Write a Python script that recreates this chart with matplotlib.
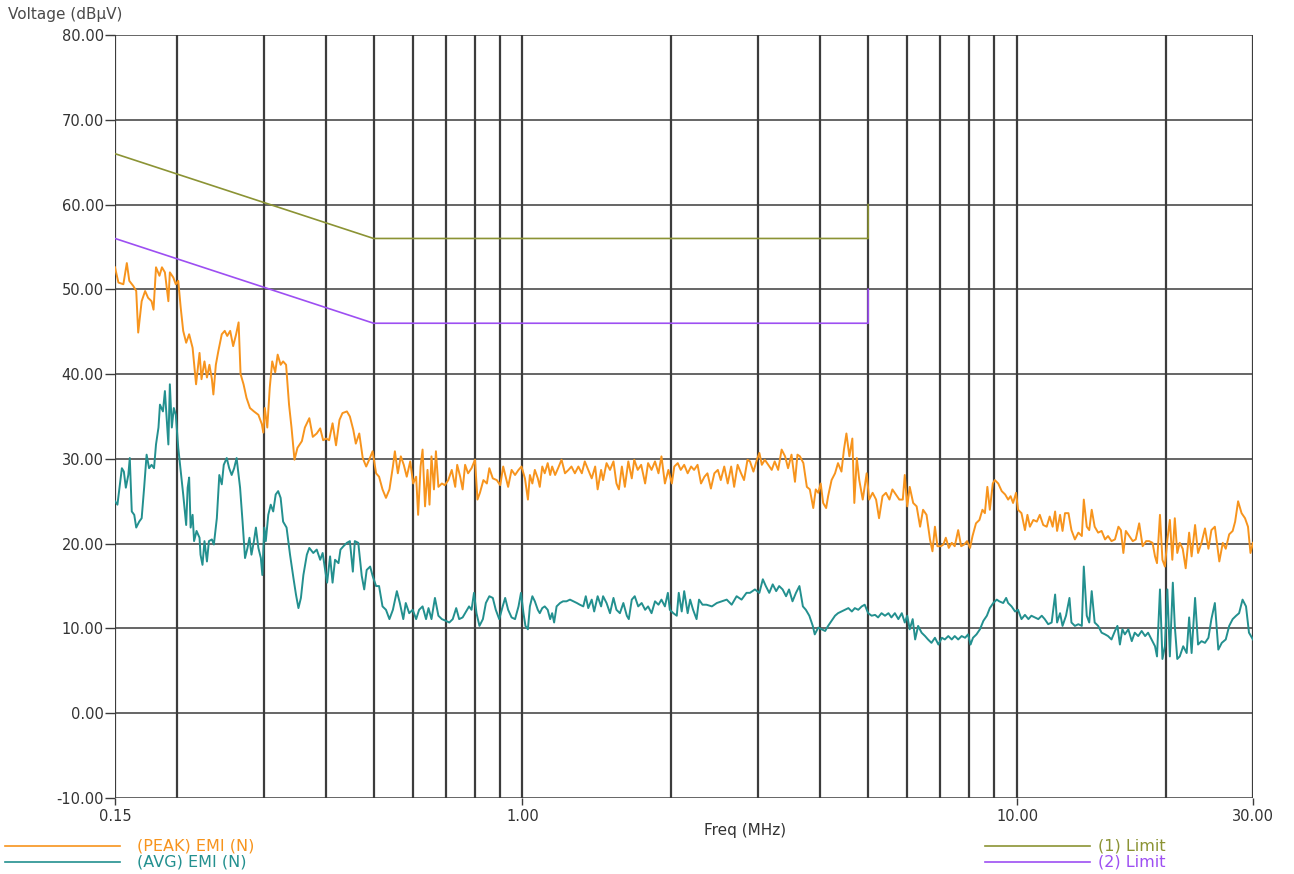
import numpy as np
import matplotlib
matplotlib.use("Agg")
import matplotlib.pyplot as plt
from matplotlib.lines import Line2D

plt.rcParams['font.family'] = ['DejaVu Sans']

# ---------------- data (frequency stored as log10 of MHz) ----------------
peak_logf = [
    -0.824, -0.817, -0.807, -0.800, -0.795, -0.787, -0.781, -0.777, -0.770, -0.763,
    -0.757, -0.750, -0.746, -0.741, -0.734, -0.729, -0.723, -0.716, -0.713, -0.706,
    -0.701, -0.696, -0.691, -0.686, -0.680, -0.674, -0.667, -0.660, -0.653, -0.649,
    -0.643, -0.638, -0.633, -0.628, -0.625, -0.620, -0.615, -0.608, -0.602, -0.597,
    -0.591, -0.585, -0.579, -0.574, -0.570, -0.564, -0.558, -0.551, -0.543, -0.534,
    -0.527, -0.524, -0.521, -0.516, -0.511, -0.506, -0.500, -0.495, -0.489, -0.484,
    -0.478, -0.472, -0.467, -0.461, -0.455, -0.446, -0.440, -0.431,
    -0.424, -0.416, -0.409, -0.403, -0.397, -0.391, -0.384, -0.377, -0.370, -0.364,
    -0.355, -0.349, -0.342, -0.337, -0.330, -0.323, -0.316, -0.310, -0.303, -0.296,
    -0.290, -0.283, -0.276, -0.269, -0.262, -0.258, -0.252, -0.246, -0.240, -0.234,
    -0.227, -0.221, -0.215, -0.211, -0.206, -0.202, -0.197, -0.192, -0.188, -0.184,
    -0.179, -0.175, -0.170, -0.163, -0.157, -0.150, -0.143, -0.136, -0.132, -0.126,
    -0.121, -0.116, -0.110, -0.103, -0.096, -0.091, -0.086, -0.079, -0.072, -0.067,
    -0.060, -0.052, -0.045, -0.039, -0.029, -0.022,
    -0.015, -0.008, -0.002, 0.005, 0.011, 0.015, 0.020, 0.025, 0.031, 0.035,
    0.040, 0.045, 0.051, 0.056, 0.060, 0.066, 0.072, 0.079, 0.086, 0.093,
    0.099, 0.106, 0.113, 0.120, 0.126, 0.133, 0.140, 0.147, 0.152, 0.159,
    0.163, 0.170, 0.177, 0.184, 0.190, 0.195, 0.201, 0.207, 0.214, 0.221,
    0.226, 0.233, 0.240, 0.248, 0.254, 0.261, 0.268, 0.275, 0.281, 0.288,
    0.295, 0.302, 0.307, 0.314, 0.320, 0.327, 0.334, 0.341, 0.347, 0.354,
    0.361, 0.368, 0.374, 0.381, 0.388, 0.395, 0.401, 0.408, 0.415, 0.422,
    0.428, 0.435, 0.442, 0.448, 0.455,
    0.460, 0.467, 0.474, 0.479, 0.484, 0.490, 0.497, 0.504, 0.510, 0.517,
    0.524, 0.531, 0.537, 0.544, 0.551, 0.556, 0.561, 0.568, 0.575, 0.581,
    0.588, 0.593, 0.598, 0.603, 0.608, 0.614, 0.618, 0.625, 0.632, 0.638,
    0.645, 0.650, 0.655, 0.661, 0.667, 0.671, 0.676, 0.681, 0.688, 0.696,
    0.701, 0.708, 0.715, 0.721, 0.728, 0.735, 0.742, 0.748, 0.755, 0.762,
    0.769, 0.773, 0.778, 0.783, 0.790, 0.797, 0.804, 0.810, 0.817, 0.824,
    0.829, 0.834, 0.839, 0.846, 0.851, 0.856, 0.862, 0.868, 0.874, 0.881,
    0.887, 0.893, 0.899, 0.905, 0.910, 0.917, 0.924, 0.930, 0.935, 0.940,
    0.945, 0.951, 0.955, 0.962,
    0.969, 0.976, 0.982, 0.987, 0.992, 0.998, 1.002, 1.009, 1.016, 1.021,
    1.026, 1.033, 1.040, 1.046, 1.053, 1.060, 1.066, 1.072, 1.077, 1.081,
    1.087, 1.092, 1.097, 1.104, 1.110, 1.117, 1.124, 1.131, 1.135, 1.141,
    1.146, 1.151, 1.157, 1.164, 1.171, 1.178, 1.184, 1.191, 1.198, 1.205,
    1.210, 1.215, 1.220, 1.227, 1.234, 1.240, 1.247, 1.254, 1.261, 1.267,
    1.274, 1.279, 1.283, 1.289, 1.294, 1.299, 1.304, 1.309, 1.314, 1.319,
    1.324, 1.329, 1.335, 1.341, 1.348, 1.353, 1.360, 1.366, 1.373, 1.380,
    1.387, 1.393, 1.400, 1.409, 1.416, 1.422, 1.429, 1.436, 1.441, 1.447,
    1.454, 1.461, 1.467, 1.472, 1.477,
]
peak_db = [
    52.6, 50.8, 50.6, 53.1, 51.0, 50.4, 49.8, 44.9, 48.6, 49.8,
    49.0, 48.6, 47.6, 52.6, 51.6, 52.6, 52.0, 48.6, 52.0, 51.4,
    50.6, 51.0, 47.8, 45.1, 43.7, 44.7, 43.1, 38.8, 42.5, 39.4,
    41.5, 39.6, 41.1, 39.4, 37.6, 41.1, 42.7, 44.7, 45.1, 44.5,
    45.1, 43.3, 44.7, 46.1, 40.0, 38.8, 37.2, 36.0, 35.6, 35.2,
    34.1, 33.1, 36.0, 33.7, 38.4, 41.5, 40.2, 42.3, 41.1, 41.5,
    41.1, 36.4, 33.7, 29.9, 31.3, 32.1, 33.7, 34.8,
    32.6, 33.0, 33.6, 32.2, 32.4, 32.2, 34.2, 31.6, 34.6, 35.4,
    35.6, 35.0, 33.4, 31.8, 33.0, 30.1, 29.1, 29.9, 30.9, 28.3,
    27.9, 26.4, 25.4, 26.4, 29.1, 30.9, 28.3, 30.3, 29.3, 27.9,
    29.7, 27.1, 27.9, 23.4, 29.1, 31.1, 24.4, 28.7, 24.6, 30.3,
    26.4, 30.9, 26.7, 27.1, 26.9, 27.5, 28.7, 26.7, 29.3, 27.9,
    26.4, 29.3, 28.3, 28.9, 29.9, 25.2, 26.0, 27.5, 27.1, 28.9,
    27.7, 27.5, 26.9, 29.1, 26.7, 28.7,
    28.1, 28.7, 29.1, 27.7, 25.2, 28.1, 27.1, 28.7, 27.7, 26.7,
    29.1, 28.3, 29.5, 28.1, 29.1, 28.1, 28.9, 29.9, 28.3, 28.7,
    29.1, 28.3, 29.1, 28.3, 29.7, 28.7, 27.7, 29.1, 26.4, 28.7,
    27.5, 29.5, 28.7, 29.7, 27.1, 26.4, 29.1, 26.7, 29.7, 27.7,
    29.9, 28.7, 29.3, 27.1, 29.5, 28.7, 29.7, 28.3, 30.3, 27.1,
    28.7, 27.1, 29.1, 29.5, 28.7, 29.3, 28.3, 29.1, 28.7, 29.3,
    27.1, 27.9, 28.3, 26.5, 28.3, 28.7, 27.5, 29.1, 27.1, 29.1,
    26.7, 29.3, 28.3, 27.5, 29.9,
    29.7, 28.5, 29.9, 30.7, 29.3, 29.9, 29.3, 28.7, 29.7, 28.7,
    31.1, 30.3, 28.9, 30.5, 27.3, 30.5, 30.3, 29.5, 26.7, 26.4,
    24.2, 26.4, 26.0, 27.1, 24.8, 24.2, 25.6, 27.5, 28.3, 29.5,
    28.5, 31.1, 33.0, 30.3, 32.4, 24.8, 30.1, 27.5, 25.2, 28.3,
    25.2, 26.0, 25.2, 23.0, 25.6, 26.0, 25.2, 26.4, 25.8, 25.2,
    25.2, 28.1, 24.4, 26.7, 24.8, 24.4, 22.0, 24.0, 23.4, 20.5,
    19.1, 22.0, 19.7, 19.7, 19.9, 20.7, 19.5, 20.1, 19.7, 21.6,
    19.7, 19.9, 20.3, 19.5, 20.9, 22.4, 22.8, 24.0, 23.6, 26.7,
    24.0, 27.1, 27.5, 27.1,
    26.2, 25.8, 25.2, 25.6, 24.8, 26.0, 24.0, 23.6, 21.6, 23.4,
    22.0, 22.8, 22.6, 23.4, 22.2, 22.0, 23.2, 22.0, 23.8, 21.5,
    23.4, 21.5, 23.6, 23.6, 21.6, 20.5, 21.3, 20.9, 25.2, 22.0,
    21.6, 24.0, 22.0, 21.3, 21.5, 20.5, 20.9, 20.3, 20.5, 22.0,
    21.6, 18.9, 21.5, 20.9, 20.3, 20.5, 22.4, 19.7, 20.3, 20.3,
    20.1, 18.5, 17.7, 23.4, 18.1, 17.3, 20.5, 22.8, 18.1, 23.0,
    18.9, 20.1, 19.4, 17.1, 21.3, 18.5, 22.2, 18.9, 20.1, 21.8,
    19.4, 21.6, 22.0, 17.9, 20.1, 19.4, 21.1, 21.5, 22.6, 25.0,
    23.6, 23.0, 22.0, 18.9, 20.1,
]

avg_logf = [
    -0.824, -0.819, -0.814, -0.810, -0.806, -0.802, -0.797, -0.794, -0.790, -0.785,
    -0.781, -0.775, -0.770, -0.765, -0.760, -0.755, -0.750, -0.745, -0.741, -0.736,
    -0.733, -0.727, -0.723, -0.719, -0.716, -0.713, -0.709, -0.705, -0.701, -0.696,
    -0.691, -0.686, -0.680, -0.677, -0.674, -0.671, -0.667, -0.664, -0.659, -0.653,
    -0.651, -0.647, -0.643, -0.638, -0.634, -0.628, -0.624, -0.618, -0.613, -0.608,
    -0.604, -0.598, -0.593, -0.588, -0.583, -0.578, -0.571, -0.566, -0.561, -0.556,
    -0.552, -0.548, -0.543, -0.539, -0.534, -0.529, -0.526, -0.522, -0.519, -0.514,
    -0.509, -0.504, -0.499, -0.494, -0.489, -0.484, -0.477, -0.470, -0.463, -0.458,
    -0.453, -0.448, -0.443, -0.436, -0.431,
    -0.423, -0.416, -0.409, -0.404, -0.399, -0.395, -0.389, -0.384, -0.379, -0.372,
    -0.368, -0.362, -0.355, -0.349, -0.343, -0.339, -0.332, -0.325, -0.320, -0.315,
    -0.308, -0.303, -0.296, -0.290, -0.283, -0.276, -0.269, -0.262, -0.254, -0.248,
    -0.241, -0.236, -0.229, -0.222, -0.215, -0.209, -0.202, -0.195, -0.190, -0.184,
    -0.177, -0.170, -0.163, -0.155, -0.148, -0.141, -0.134, -0.128, -0.121, -0.114,
    -0.108, -0.103, -0.098, -0.093, -0.087, -0.080, -0.074, -0.067, -0.060, -0.054,
    -0.047, -0.040, -0.035, -0.029, -0.022,
    -0.015, -0.008, -0.003, 0.002, 0.006, 0.011, 0.015, 0.020, 0.025, 0.031,
    0.035, 0.040, 0.045, 0.051, 0.056, 0.060, 0.064, 0.069, 0.076, 0.082,
    0.089, 0.096, 0.103, 0.110, 0.116, 0.123, 0.128, 0.133, 0.140, 0.145,
    0.152, 0.159, 0.163, 0.170, 0.177, 0.184, 0.190, 0.197, 0.204, 0.211,
    0.215, 0.221, 0.227, 0.234, 0.241, 0.248, 0.254, 0.261, 0.268, 0.275,
    0.281, 0.288, 0.294, 0.298, 0.305, 0.312, 0.316, 0.322, 0.327, 0.334,
    0.339, 0.345, 0.352, 0.357, 0.364, 0.372, 0.383, 0.393, 0.403, 0.413,
    0.423, 0.433, 0.443, 0.453,
    0.460, 0.470, 0.479, 0.486, 0.492, 0.499, 0.506, 0.513, 0.519, 0.526,
    0.533, 0.539, 0.546, 0.553, 0.560, 0.567, 0.573, 0.580, 0.587, 0.591,
    0.598, 0.605, 0.612, 0.618, 0.625, 0.632, 0.638, 0.645, 0.652, 0.659,
    0.666, 0.672, 0.679, 0.686, 0.692, 0.699, 0.706, 0.713, 0.719, 0.726,
    0.733, 0.740, 0.746, 0.753, 0.760, 0.767, 0.773, 0.778, 0.783, 0.789,
    0.794, 0.800, 0.807, 0.814, 0.820, 0.827, 0.834, 0.841, 0.848, 0.854,
    0.861, 0.868, 0.874, 0.881, 0.888, 0.895, 0.901, 0.906, 0.911, 0.918,
    0.925, 0.932, 0.939, 0.945, 0.952, 0.959, 0.964,
    0.972, 0.978, 0.982, 0.989, 0.996, 1.002, 1.009, 1.016, 1.023, 1.029,
    1.036, 1.043, 1.050, 1.056, 1.063, 1.070, 1.077, 1.081, 1.087, 1.092,
    1.099, 1.106, 1.110, 1.117, 1.124, 1.131, 1.135, 1.141, 1.146, 1.151,
    1.157, 1.164, 1.171, 1.178, 1.184, 1.191, 1.198, 1.203, 1.208, 1.213,
    1.218, 1.225, 1.232, 1.238, 1.245, 1.252, 1.259, 1.265, 1.272, 1.279,
    1.283, 1.289, 1.294, 1.299, 1.304, 1.309, 1.315, 1.319, 1.324, 1.329,
    1.336, 1.343, 1.348, 1.353, 1.360, 1.366, 1.373, 1.380, 1.387, 1.393,
    1.400, 1.407, 1.414, 1.422, 1.429, 1.436, 1.443, 1.449, 1.456, 1.463,
    1.469, 1.477,
]
avg_db = [
    25.0, 24.6, 27.0, 28.9, 28.5, 26.6, 28.1, 30.1, 23.8, 23.4,
    21.9, 22.6, 23.0, 26.6, 30.5, 28.9, 29.3, 28.9, 31.7, 33.7,
    36.4, 35.6, 38.0, 34.4, 31.7, 38.8, 33.7, 36.0, 35.2, 31.3,
    28.5, 25.8, 22.2, 26.6, 27.8, 21.9, 23.4, 20.3, 21.5, 20.7,
    18.7, 17.5, 20.3, 17.9, 20.3, 20.5, 19.9, 23.0, 28.1, 27.0,
    29.3, 30.1, 28.9, 28.1, 28.9, 30.1, 26.6, 22.6, 18.3, 19.5,
    20.7, 18.7, 20.3, 21.9, 19.5, 18.3, 16.3, 21.9, 20.3, 23.4,
    24.6, 23.8, 25.8, 26.2, 25.4, 22.6, 21.9, 18.7, 15.9, 14.0,
    12.4, 13.6, 16.3, 18.7, 19.5,
    18.9, 19.3, 18.1, 18.9, 16.9, 15.4, 18.5, 15.4, 18.1, 17.7,
    19.3, 19.7, 20.1, 20.3, 16.7, 20.3, 20.1, 16.2, 14.6, 16.9,
    17.3, 16.2, 15.0, 15.0, 12.6, 12.2, 11.1, 12.2, 14.4, 13.0,
    11.1, 13.0, 11.8, 12.2, 11.1, 12.2, 12.6, 11.1, 12.4, 11.1,
    13.6, 11.5, 11.1, 10.9, 10.7, 11.1, 12.4, 11.1, 11.3, 12.0,
    12.6, 12.2, 14.2, 11.8, 10.3, 11.1, 13.0, 13.8, 13.6, 12.2,
    11.1, 12.6, 13.6, 12.2, 11.3,
    11.1, 12.6, 14.2, 11.8, 10.3, 9.9, 12.6, 13.8, 13.2, 12.2,
    11.8, 12.4, 12.6, 12.2, 11.1, 11.8, 10.7, 12.6, 13.0, 13.2,
    13.2, 13.4, 13.2, 13.0, 12.8, 12.6, 13.8, 12.4, 13.4, 12.0,
    13.8, 12.6, 13.8, 13.0, 11.8, 13.6, 12.2, 11.8, 13.0, 11.5,
    11.1, 13.4, 13.8, 12.6, 13.0, 12.2, 12.6, 11.8, 13.2, 12.8,
    13.4, 12.6, 14.2, 12.2, 11.8, 11.5, 14.2, 12.0, 14.4, 11.8,
    13.4, 12.2, 11.1, 13.4, 12.8, 12.8, 12.6, 13.0, 13.2, 13.4,
    12.8, 13.8, 13.4, 14.2,
    14.2, 14.6, 14.2, 15.8, 15.0, 14.2, 15.2, 14.4, 15.0, 14.6,
    13.8, 14.6, 13.2, 14.2, 15.0, 12.6, 12.2, 11.5, 10.3, 9.3,
    10.1, 9.9, 9.7, 10.3, 10.9, 11.5, 11.8, 12.0, 12.2, 12.4,
    12.0, 12.4, 12.2, 12.6, 12.8, 11.8, 11.5, 11.6, 11.3, 11.8,
    11.5, 11.8, 11.3, 11.8, 11.1, 11.8, 10.7, 11.5, 9.9, 11.1,
    8.7, 10.3, 9.5, 9.1, 8.7, 8.3, 8.9, 8.1, 8.9, 8.7,
    9.1, 8.7, 9.1, 8.7, 9.1, 8.9, 9.3, 8.1, 8.9, 9.3,
    9.9, 10.9, 11.5, 12.4, 13.0, 13.4, 13.2,
    13.0, 13.6, 13.0, 12.6, 12.0, 12.2, 11.1, 11.6, 11.1, 11.5,
    11.3, 11.1, 11.5, 11.1, 10.5, 10.7, 14.0, 10.7, 11.8, 10.3,
    11.5, 13.6, 10.7, 10.3, 10.5, 10.3, 17.3, 11.5, 10.7, 14.4,
    10.7, 10.3, 9.5, 9.3, 9.1, 8.7, 9.7, 10.3, 8.1, 9.9,
    9.3, 9.9, 8.5, 9.5, 9.1, 9.7, 9.1, 9.5, 8.7, 7.9,
    6.7, 14.6, 6.4, 7.9, 14.6, 6.7, 15.4, 10.3, 6.4, 6.7,
    7.9, 7.1, 11.3, 7.1, 13.6, 8.1, 8.5, 8.3, 8.9, 11.1,
    13.0, 7.5, 8.3, 8.7, 10.3, 11.1, 11.5, 11.8, 13.4, 12.6,
    9.5, 8.7,
]

limit1_f = [0.15, 0.5, 5.0, 5.0]
limit1_db = [66.0, 56.0, 56.0, 60.0]
limit2_f = [0.15, 0.5, 5.0, 5.0]
limit2_db = [56.0, 46.0, 46.0, 50.0]

grid_freqs = [0.15, 0.2, 0.3, 0.4, 0.5, 0.6, 0.7, 0.8, 0.9, 1.0,
              2.0, 3.0, 4.0, 5.0, 6.0, 7.0, 8.0, 9.0, 10.0, 20.0, 30.0]
x_ticks = [0.15, 1.0, 10.0, 30.0]
x_tick_labels = ["0.15", "1.00", "10.00", "30.00"]
y_ticks = [-10, 0, 10, 20, 30, 40, 50, 60, 70, 80]

series_names = ["(PEAK) EMI (N)", "(AVG) EMI (N)", "(1) Limit", "(2) Limit"]

# ---------------- style ----------------
c_peak = '#f7941d'
c_avg = '#23908f'
c_lim1 = '#8b9334'
c_lim2 = '#9d4ff2'
c_grid = '#3c3c3c'
c_text = '#333333'

W, H = 1294, 874
fig = plt.figure(figsize=(W / 100, H / 100), dpi=100)
fig.patch.set_facecolor('white')
ax = fig.add_axes([115 / W, 1 - 798 / H, (1253 - 115) / W, (798 - 35) / H])
ax.set_xscale('log')
ax.set_xlim(0.15, 30)
ax.set_ylim(-10, 80)

for s in ax.spines.values():
    s.set_visible(False)

for f in grid_freqs:
    ax.axvline(f, color=c_grid, lw=1.6, zorder=1)
for yv in y_ticks:
    ax.axhline(yv, color=c_grid, lw=1.1, zorder=1)

pf = 10 ** np.array(peak_logf)
af = 10 ** np.array(avg_logf)
ax.plot(limit1_f, limit1_db, color=c_lim1, lw=1.2, zorder=3)
ax.plot(limit2_f, limit2_db, color=c_lim2, lw=1.2, zorder=3)
ax.plot(pf, peak_db, color=c_peak, lw=1.4, zorder=4)
ax.plot(af, avg_db, color=c_avg, lw=1.4, zorder=4)

ax.xaxis.set_minor_locator(matplotlib.ticker.NullLocator())
ax.set_xticks(x_ticks)
ax.set_xticklabels(x_tick_labels)
ax.set_yticks(y_ticks)
ax.set_yticklabels([f"{v:.2f}" for v in y_ticks])
ax.tick_params(axis='both', colors=c_grid, labelcolor=c_text, labelsize=10.5,
               width=1.0)
ax.tick_params(axis='y', length=7, pad=1)
ax.tick_params(axis='x', length=5, pad=3)

fig.text(8 / W, 1 - 15 / H, "Voltage (dBµV)", fontsize=11, color='#4a4a4a',
         ha='left', va='center')
fig.text(745 / W, 1 - 830 / H, "Freq (MHz)", fontsize=11, color=c_text,
         ha='center', va='center')

# legend (manual, like the instrument software)
rows = [(846, c_peak, series_names[0], 5, 120, 137),
        (862, c_avg, series_names[1], 5, 120, 137),
        (846, c_lim1, series_names[2], 985, 1090, 1098),
        (862, c_lim2, series_names[3], 985, 1090, 1098)]
for yy, col, name, x0, x1, xt in rows:
    fy = 1 - yy / H
    fig.add_artist(Line2D([x0 / W, x1 / W], [fy, fy], color=col, lw=1.2,
                          transform=fig.transFigure))
    fig.text(xt / W, fy, name, fontsize=11.5, color=col, ha='left', va='center')

fig.savefig('out.png', dpi=100, facecolor='white')
